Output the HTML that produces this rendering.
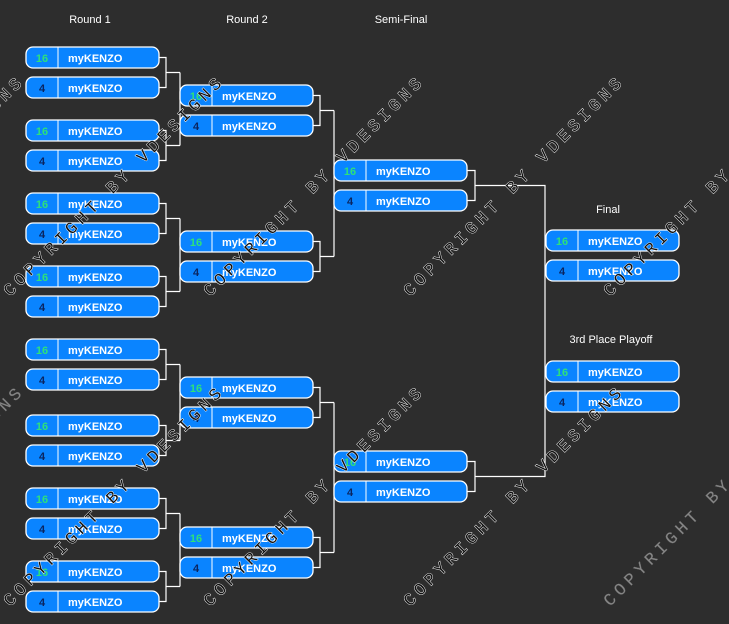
<!DOCTYPE html>
<html><head><meta charset="utf-8"><style>
html,body{margin:0;padding:0;background:#2d2d2d;}
svg{display:block}
.b{fill:#0a84ff;stroke:#fff;stroke-width:1.3}
.d{stroke:#fff;stroke-width:1}
.n{font:bold 11px "Liberation Sans",sans-serif;fill:#fff}
.g{font:bold 11px "Liberation Sans",sans-serif;fill:#2ee07a;text-anchor:middle}
.k{font:bold 11px "Liberation Sans",sans-serif;fill:#0b2560;text-anchor:middle}
.h{font:11px "Liberation Sans",sans-serif;fill:#fff;text-anchor:middle}
.l{stroke:#fff;stroke-width:1.2;fill:none}
.w{font:17px "Liberation Mono",monospace;letter-spacing:4.3px;fill:#111;stroke:#fff;stroke-width:0.9;paint-order:stroke}
.wg{font:17px "Liberation Mono",monospace;letter-spacing:4.3px;fill:#888;stroke:#666;stroke-width:0.3}
</style></head><body>
<svg width="729" height="624" viewBox="0 0 729 624" xmlns="http://www.w3.org/2000/svg">
<defs>
<g id="bx16"><rect class="b" x="0" y="0" width="133" height="21" rx="7"/><line class="d" x1="32" y1="0" x2="32" y2="21"/><text class="g" x="16" y="15">16</text><text class="n" x="42" y="15">myKENZO</text></g>
<g id="bx4"><rect class="b" x="0" y="0" width="133" height="21" rx="7"/><line class="d" x1="32" y1="0" x2="32" y2="21"/><text class="k" x="16" y="15">4</text><text class="n" x="42" y="15">myKENZO</text></g>
</defs>
<text class="h" x="90" y="23">Round 1</text>
<text class="h" x="247" y="23">Round 2</text>
<text class="h" x="401" y="23">Semi-Final</text>
<text class="h" x="608" y="213">Final</text>
<text class="h" x="611" y="343">3rd Place Playoff</text>
<!-- connectors R1 -> R2 -->
<path class="l" d="M159 57.5H166V87.5H159M166 72.5H180M159 130.5H166V160.5H159M166 145.5H180M180 72.5V145.5"/>
<path class="l" d="M159 203.5H166V233.5H159M166 218.5H180M159 276.5H166V306.5H159M166 291.5H180M180 218.5V291.5"/>
<path class="l" d="M159 349.5H166V379.5H159M166 364.5H180M159 425.5H166V455.5H159M166 440.5H180M180 364.5V440.5"/>
<path class="l" d="M159 498.5H166V528.5H159M166 513.5H180M159 571.5H166V601.5H159M166 586.5H180M180 513.5V586.5"/>
<!-- R2 -> SF -->
<path class="l" d="M313 95.5H320V125.5H313M320 110.5H334M313 241.5H320V271.5H313M320 256.5H334M334 110.5V256.5"/>
<path class="l" d="M313 387.5H320V417.5H313M320 402.5H334M313 537.5H320V567.5H313M320 552.5H334M334 402.5V552.5"/>
<!-- SF -> Final -->
<path class="l" d="M467 170.5H475V200.5H467M475 185.5H545V476.5H475M467 461.5H475V491.5H467"/>
<!-- Round1 -->
<use href="#bx16" x="26" y="47"/><use href="#bx4" x="26" y="77"/>
<use href="#bx16" x="26" y="120"/><use href="#bx4" x="26" y="150"/>
<use href="#bx16" x="26" y="193"/><use href="#bx4" x="26" y="223"/>
<use href="#bx16" x="26" y="266"/><use href="#bx4" x="26" y="296"/>
<use href="#bx16" x="26" y="339"/><use href="#bx4" x="26" y="369"/>
<use href="#bx16" x="26" y="415"/><use href="#bx4" x="26" y="445"/>
<use href="#bx16" x="26" y="488"/><use href="#bx4" x="26" y="518"/>
<use href="#bx16" x="26" y="561"/><use href="#bx4" x="26" y="591"/>
<!-- Round2 -->
<use href="#bx16" x="180" y="85"/><use href="#bx4" x="180" y="115"/>
<use href="#bx16" x="180" y="231"/><use href="#bx4" x="180" y="261"/>
<use href="#bx16" x="180" y="377"/><use href="#bx4" x="180" y="407"/>
<use href="#bx16" x="180" y="527"/><use href="#bx4" x="180" y="557"/>
<!-- Semi -->
<use href="#bx16" x="334" y="160"/><use href="#bx4" x="334" y="190"/>
<use href="#bx16" x="334" y="451"/><use href="#bx4" x="334" y="481"/>
<!-- Final / 3rd -->
<use href="#bx16" x="546" y="230"/><use href="#bx4" x="546" y="260"/>
<use href="#bx16" x="546" y="361"/><use href="#bx4" x="546" y="391"/>
<!-- watermarks -->
<text class="w" transform="translate(-190,297) rotate(-45)">COPYRIGHT BY VDESIGNS</text>
<text class="w" transform="translate(10,297) rotate(-45)">COPYRIGHT BY VDESIGNS</text>
<text class="w" transform="translate(210,297) rotate(-45)">COPYRIGHT BY VDESIGNS</text>
<text class="w" transform="translate(410,297) rotate(-45)">COPYRIGHT BY VDESIGNS</text>
<text class="w" transform="translate(610,297) rotate(-45)">COPYRIGHT BY VDESIGNS</text>
<text class="wg" transform="translate(-190,607) rotate(-45)">COPYRIGHT BY VDESIGNS</text>
<text class="w" transform="translate(10,607) rotate(-45)">COPYRIGHT BY VDESIGNS</text>
<text class="w" transform="translate(210,607) rotate(-45)">COPYRIGHT BY VDESIGNS</text>
<text class="w" transform="translate(410,607) rotate(-45)">COPYRIGHT BY VDESIGNS</text>
<text class="wg" transform="translate(610,607) rotate(-45)">COPYRIGHT BY VDESIGNS</text>
</svg>
</body></html>
